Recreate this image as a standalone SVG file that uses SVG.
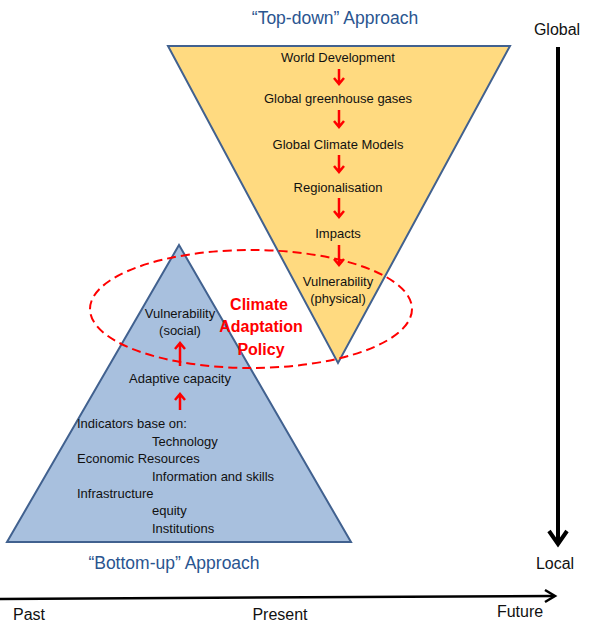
<svg xmlns="http://www.w3.org/2000/svg" width="594" height="638" viewBox="0 0 594 638">
<style>
text{font-family:"Liberation Sans",Arial,sans-serif;fill:#111;}
.t13{font-size:13px;}
.c{text-anchor:middle;}
.title{font-size:17.5px;fill:#2A5590;text-anchor:middle;}
.axis{font-size:16px;}
.policy{font-size:16px;font-weight:bold;fill:#FF0000;text-anchor:middle;}
.red{stroke:#FF0000;stroke-width:2.5;fill:none;stroke-linecap:butt;}
.blk{stroke:#000;fill:none;}
</style>
<g id="top-down-triangle">
<polygon points="168,46 510,46 338,363" fill="#FFDA80" stroke="#41618F" stroke-width="2"/>
</g>
<g id="bottom-up-triangle">
<polygon points="179,245 351,542 7,542" fill="#A8C0DE" stroke="#41618F" stroke-width="2"/>
</g>
<g id="policy-ellipse">
<ellipse cx="251" cy="309" rx="161" ry="59" fill="none" stroke="#FF0000" stroke-width="2" stroke-dasharray="9,5"/>
</g>
<g id="top-down-labels">
<text class="title" x="335" y="24">“Top-down” Approach</text>
<text class="t13 c" x="338" y="61.5">World Development</text>
<text class="t13 c" x="338" y="103">Global greenhouse gases</text>
<text class="t13 c" x="338" y="148.5">Global Climate Models</text>
<text class="t13 c" x="338" y="191.5">Regionalisation</text>
<text class="t13 c" x="338" y="237.5">Impacts</text>
<text class="t13 c" x="338" y="285.5">Vulnerability</text>
<text class="t13 c" x="338" y="302.5">(physical)</text>
</g>
<g id="bottom-up-labels">
<text class="t13 c" x="180" y="317.5">Vulnerability</text>
<text class="t13 c" x="180" y="334.5">(social)</text>
<text class="t13 c" x="180" y="382.5">Adaptive capacity</text>
<text class="t13" x="77" y="427.5">Indicators base on:</text>
<text class="t13" x="152" y="445.5">Technology</text>
<text class="t13" x="77" y="462.5">Economic Resources</text>
<text class="t13" x="152" y="480.5">Information and skills</text>
<text class="t13" x="77" y="497.5">Infrastructure</text>
<text class="t13" x="152" y="515">equity</text>
<text class="t13" x="152" y="532.5">Institutions</text>
<text class="title" x="174" y="569">“Bottom-up” Approach</text>
</g>
<g id="policy-label">
<text class="policy" x="259" y="310">Climate</text>
<text class="policy" x="261" y="332">Adaptation</text>
<text class="policy" x="261" y="355">Policy</text>
</g>
<g id="axis-labels">
<text class="axis c" x="557" y="35">Global</text>
<text class="axis c" x="555" y="569">Local</text>
<text class="axis" x="13" y="620">Past</text>
<text class="axis c" x="280" y="620">Present</text>
<text class="axis c" x="520" y="617">Future</text>
</g>
<g id="connectors">
<path class="red" d="M339,69 V84 M334,78 L339,84 L344,78"/>
<path class="red" d="M339,110 V127 M334,121 L339,127 L344,121"/>
<path class="red" d="M339,155 V172 M334,166 L339,172 L344,166"/>
<path class="red" d="M339,198 V217 M334,211 L339,217 L344,211"/>
<path class="red" d="M339,245 V265 M334,259 L339,265 L344,259"/>
<path class="red" d="M180,366 V343 M175,349 L180,343 L185,349"/>
<path class="red" d="M180,410 V394 M175,400 L180,394 L185,400"/>
<path class="blk" stroke-width="4" d="M558,47 V544"/>
<path class="blk" stroke-width="4" d="M549,531 L558,544 L567,531" stroke-linejoin="miter"/>
<path class="blk" stroke-width="2.5" d="M0,599 L554,596"/>
<path class="blk" stroke-width="2.5" d="M545,590 L555,596 L545,602"/>
</g>
</svg>
